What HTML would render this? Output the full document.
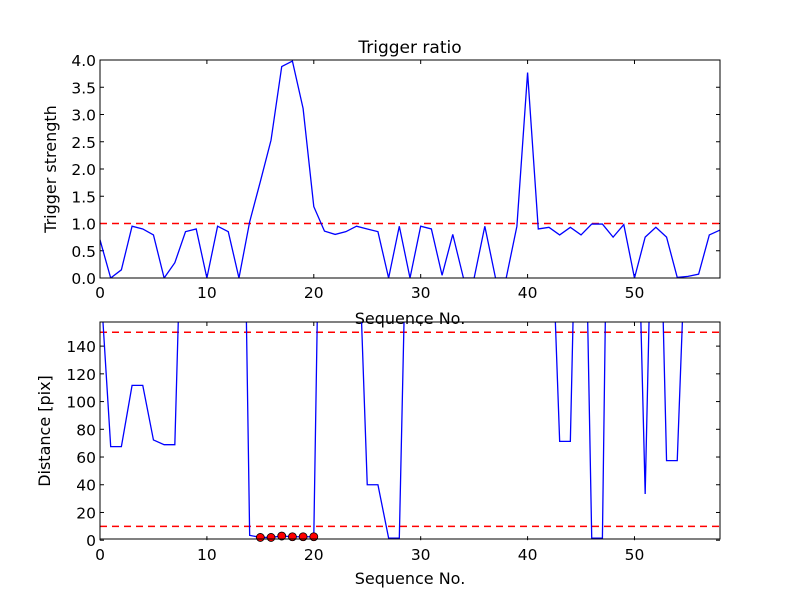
<!DOCTYPE html>
<html><head><meta charset="utf-8"><style>
body{margin:0;background:#fff;}
svg{display:block;font-family:"DejaVu Sans","Liberation Sans",sans-serif;}
</style></head><body>
<svg id="fig" width="800" height="600" viewBox="0 0 800 600">
<rect width="800" height="600" fill="#fff"/>
<defs>
<clipPath id="clipTop"><rect x="100" y="60" width="620" height="218"/></clipPath>
<clipPath id="clipBot"><rect x="100" y="322" width="620" height="217"/></clipPath>
</defs>
<text x="410" y="53" font-size="17" text-anchor="middle">Trigger ratio</text>
</svg>
<script>
const seq = [];
for (let i = 0; i <= 58; i++) seq.push(i);
const triggerStrength = [0.70,0,0.15,0.95,0.90,0.79,0,0.28,0.85,0.90,0,0.95,0.85,0,1.03,1.77,2.53,3.88,3.98,3.11,1.31,0.86,0.80,0.85,0.95,0.90,0.85,0,0.95,0,0.95,0.90,0.05,0.80,0,0,0.95,0,0,0.95,3.77,0.90,0.93,0.79,0.93,0.79,0.99,0.99,0.75,0.98,0,0.75,0.93,0.75,0.01,0.03,0.07,0.79,0.88];
const distance = [192,67.5,67.5,111.7,111.7,72.3,68.9,68.9,345,300,300,300,300,513,3.5,2,2,3,2.5,2.5,2.5,486,300,300,261,40,40,1.5,1.5,356,300,300,300,300,300,300,300,300,300,300,300,300,286,71.3,71.3,416,1.5,1.5,579,300,343,33.3,378,57.4,57.4,266,300,300,300];
const markerIdx = [15,16,17,18,19,20];
const triggerThreshold = [1.0];
const distanceThresholds = [150,10];
const xTicks = [0,10,20,30,40,50];
const topYTicks = ['0.0','0.5','1.0','1.5','2.0','2.5','3.0','3.5','4.0'];
const botYTicks = ['0','20','40','60','80','100','120','140'];

const NS = 'http://www.w3.org/2000/svg';
const svg = document.getElementById('fig');
function el(tag, attrs, parent) {
  const e = document.createElementNS(NS, tag);
  for (const k in attrs) e.setAttribute(k, attrs[k]);
  (parent || svg).appendChild(e);
  return e;
}
const X0 = 100, X1 = 720, XMAX = 58;
const xs = v => X0 + (v / XMAX) * (X1 - X0);

function axes(name, top, bot, ymax, yTicks) {
  const ys = v => bot - (v / ymax) * (bot - top);
  const g = el('g', {});
  
  
  xTicks.forEach(t => {
    const x = xs(t);
    el('line', {x1:x, x2:x, y1:bot, y2:bot-4, stroke:'#000'}, g);
    el('line', {x1:x, x2:x, y1:top, y2:top+4, stroke:'#000'}, g);
    const tx = el('text', {x:x, y:bot+20, 'font-size':15.5, 'text-anchor':'middle'}, g);
    
    
    tx.textContent = t;
  });
  yTicks.forEach(t => {
    const y = ys(parseFloat(t));
    el('line', {x1:X0, x2:X0+4, y1:y, y2:y, stroke:'#000'}, g);
    el('line', {x1:X1, x2:X1-4, y1:y, y2:y, stroke:'#000'}, g);
    const tx = el('text', {x:X0-4, y:y+6, 'font-size':15.5, 'text-anchor':'end'}, g);
    
    
    tx.textContent = t;
  });
  return {g, ys};
}

// Top chart
const A = axes('top-axes', 60, 278, 4, topYTicks);
triggerThreshold.forEach(v => {
  const l = el('line', {x1:X0, x2:X1, y1:A.ys(v), y2:A.ys(v), stroke:'#f00', 'stroke-width':1.5, 'stroke-dasharray':'7,5'});
  
  
});
const p1 = el('polyline', {points: seq.map((s,i)=>xs(s)+','+A.ys(triggerStrength[i])).join(' '), fill:'none', stroke:'#00f', 'stroke-width':1.3, 'clip-path':'url(#clipTop)'});


el('rect', {x:100, y:60, width:620, height:218, fill:'none', stroke:'#000'});
const yl1 = el('text', {x:56, y:169, 'font-size':16, 'text-anchor':'middle', transform:'rotate(-90 56 169)'});


yl1.textContent = 'Trigger strength';
const xl1 = el('text', {x:410, y:324, 'font-size':16, 'text-anchor':'middle'});


xl1.textContent = 'Sequence No.';

// Bottom chart
const B = axes('bottom-axes', 322, 540.2, 157.4, botYTicks);
distanceThresholds.forEach(v => {
  const l = el('line', {x1:X0, x2:X1, y1:B.ys(v), y2:B.ys(v), stroke:'#f00', 'stroke-width':1.5, 'stroke-dasharray':'7,5'});
  
  
});
const p2 = el('polyline', {points: seq.map((s,i)=>xs(s)+','+B.ys(distance[i])).join(' '), fill:'none', stroke:'#00f', 'stroke-width':1.3, 'clip-path':'url(#clipBot)'});


markerIdx.forEach(i => {
  const c = el('circle', {cx:xs(seq[i]), cy:B.ys(distance[i]), r:4, fill:'#f00', stroke:'#000', 'stroke-width':0.8});
  
  
});
el('rect', {x:100, y:322, width:620, height:217, fill:'none', stroke:'#000'});
const yl2 = el('text', {x:50, y:431, 'font-size':16, 'text-anchor':'middle', transform:'rotate(-90 50 431)'});


yl2.textContent = 'Distance [pix]';
const xl2 = el('text', {x:410, y:584, 'font-size':16, 'text-anchor':'middle'});


xl2.textContent = 'Sequence No.';
</script>
</body></html>
